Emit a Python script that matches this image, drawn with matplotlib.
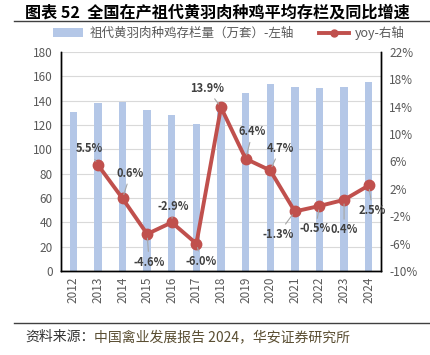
import matplotlib
matplotlib.use("Agg")
import matplotlib.pyplot as plt
from matplotlib.lines import Line2D
from matplotlib.patches import Patch
import numpy as np

plt.rcParams['font.family'] = ['Noto Sans CJK SC', 'DejaVu Sans']

years = ['2012', '2013', '2014', '2015', '2016', '2017', '2018',
         '2019', '2020', '2021', '2022', '2023', '2024']
stock = [131, 138, 139, 132, 128.5, 121, 137.6, 146.5, 153.4, 151.2, 150.4, 151.2, 155]
yoy_years = years[1:]
yoy = [5.5, 0.6, -4.6, -2.9, -6.0, 13.9, 6.4, 4.7, -1.3, -0.5, 0.4, 2.5]

title = '图表 52  全国在产祖代黄羽肉种鸡平均存栏及同比增速'
bar_label = '祖代黄羽肉种鸡存栏量（万套）-左轴'
line_label = 'yoy-右轴'
source_a = '资料来源：'
source_b = '中国禽业发展报告 2024，华安证券研究所'

# label offsets in pixels (dx, dy up)
offsets = [(-9, 16), (8, 25), (2, -28), (1, 16), (5, -18), (-14, 19),
           (7, 27), (10, 22), (-17, -23), (-4, -23), (0, -30), (4, -25)]

W, H = 430, 355
fig = plt.figure(figsize=(W / 100, H / 100), dpi=100)
ax = fig.add_axes([61 / W, 1 - 271 / H, 320 / W, 219 / H])
ax2 = ax.twinx()

x = np.arange(len(years))
ax.bar(x, stock, width=0.3, color='#B4C7E7', zorder=2)
ax.set_ylim(0, 180)
ax.set_yticks(range(0, 181, 20))
ax.set_xlim(-0.5, len(years) - 0.5)
ax.set_xticks(x)
ax.set_xticklabels(years, rotation=90)
ax.yaxis.grid(True, color='#D9D9D9', lw=0.8, zorder=0)
ax.set_axisbelow(True)

xl = np.array([years.index(y) for y in yoy_years])
ax2.plot(xl, yoy, color='#C0504D', lw=2.8, marker='o', ms=7.5, zorder=5)
ax2.set_ylim(-10, 22)
ax2.set_yticks(range(-10, 23, 4))
ax2.set_yticklabels([f'{v}%' for v in range(-10, 23, 4)])

for xi, v, (dx, dy) in zip(xl, yoy, offsets):
    ax2.annotate(f'{v:.1f}%', xy=(xi, v), xytext=(dx, dy), textcoords='offset pixels',
                 ha='center', va='center', fontsize=8, color='#404040', fontweight='bold',
                 arrowprops=dict(arrowstyle='-', color='#A6A6A6', lw=0.8,
                                 shrinkA=1, shrinkB=3), zorder=6)

for a in (ax, ax2):
    a.spines['top'].set_visible(False)
    for s in ('left', 'right', 'bottom'):
        a.spines[s].set_color('#000000')
        a.spines[s].set_linewidth(1.0)
    a.tick_params(length=0, labelsize=8.5, labelcolor='#595959')
ax.tick_params(axis='y', pad=6)
ax2.tick_params(axis='y', pad=6)
ax.tick_params(axis='x', pad=4, labelsize=8.5)

handles = [Patch(facecolor='#B4C7E7'),
           Line2D([0], [0], color='#C0504D', lw=2.8, marker='o', ms=5)]
fig.legend(handles, [bar_label, line_label], loc='center',
           bbox_to_anchor=(229 / W, 1 - 33 / H), ncol=2, frameon=False,
           fontsize=9, handlelength=2.4, columnspacing=2.0, handletextpad=0.5,
           labelcolor='#595959')

fig.text(25 / W, 1 - 12 / H, title, fontsize=11.6, fontweight='bold', color='#000000',
         ha='left', va='center')
fig.add_artist(Line2D([14 / W, 1], [1 - 21 / H, 1 - 21 / H], color='#404040', lw=1.0))
fig.add_artist(Line2D([14 / W, 1], [1 - 323 / H, 1 - 323 / H], color='#404040', lw=1.0))
t = fig.text(25 / W, 1 - 337 / H, source_a, fontsize=10, color='#333333', ha='left', va='center')
fig.canvas.draw()
bb = t.get_window_extent()
fig.text(bb.x1 / W, 1 - 337 / H, source_b, fontsize=10, color='#5A4E32', ha='left', va='center')

fig.savefig('out.png', dpi=100)
